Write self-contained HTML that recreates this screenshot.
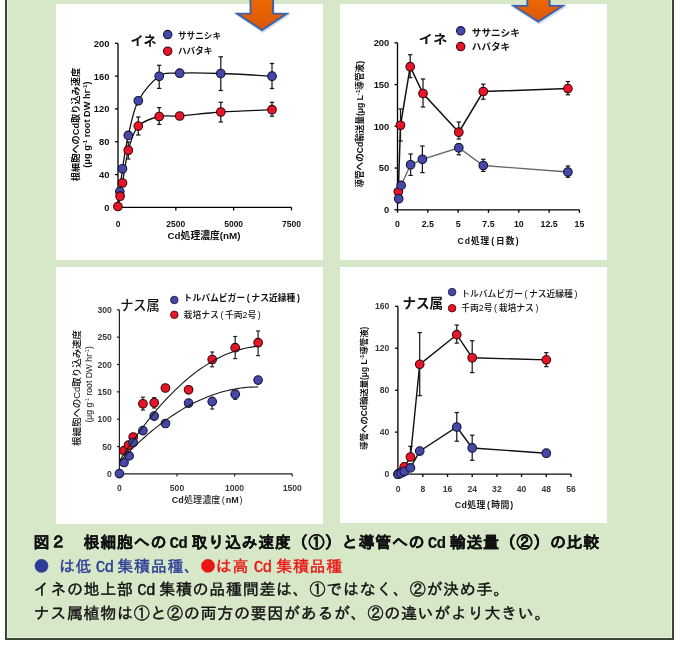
<!DOCTYPE html>
<html><head><meta charset="utf-8"><style>
html,body{margin:0;padding:0;background:#fff;}
body{width:680px;height:645px;position:relative;overflow:hidden;}
#frame{position:absolute;left:5px;top:-10px;width:665px;height:648px;border:2px solid #3b4736;border-top:none;background:#d7e8c8;}
#frame:before{content:"";position:absolute;left:0;top:0;right:0;bottom:0;border:1px solid #e9f4dd;border-top:none;}
.pn{position:absolute;background:#fff;}
svg{position:absolute;left:0;top:0;}
#cap{position:absolute;left:33.5px;top:532.9px;font-family:"Liberation Mono","IPAGothic","Noto Sans CJK JP",monospace;font-size:16px;line-height:23.8px;letter-spacing:0.7px;color:#111;-webkit-text-stroke:0.4px currentColor;white-space:nowrap;}
#cap>div{height:23.8px;} #cap .b{font-weight:bold;-webkit-text-stroke:0.15px currentColor;}
#cap .c,#cap .c1,#cap .c2,#cap .c3{letter-spacing:-0.9px;} #cap .c{margin:0 4.6px 0 3.5px;} #cap .c1{margin:0 4.6px 0 2.4px;} #cap .c2{margin:0 4.2px 0 3.4px;} #cap .c3{margin:0 5.0px 0 4.7px;}
#cap .j{font-family:"IPAGothic","Noto Sans CJK JP",monospace;line-height:0;} .bl{color:#2b3c96;} .rd{color:#ec1515;}
</style></head><body>
<div id="frame"></div>
<div class="pn" style="left:56px;top:4px;width:267px;height:256px"></div>
<div class="pn" style="left:340px;top:4px;width:267px;height:256px"></div>
<div class="pn" style="left:56px;top:267px;width:267px;height:257px"></div>
<div class="pn" style="left:340px;top:267px;width:267px;height:256px"></div>
<svg width="680" height="645" viewBox="0 0 680 645">
<defs><linearGradient id="og" x1="0" y1="0" x2="0" y2="1"><stop offset="0" stop-color="#f06a02"/><stop offset="0.6" stop-color="#e25e06"/><stop offset="1" stop-color="#da560a"/></linearGradient></defs>
<path d="M118.00,43.30 L118.00,207.40 L291.49,207.40" fill="none" stroke="#000" stroke-width="1.30"/><line x1="115.00" y1="207.40" x2="118.00" y2="207.40" stroke="#000" stroke-width="1.30"/><line x1="115.00" y1="174.58" x2="118.00" y2="174.58" stroke="#000" stroke-width="1.30"/><line x1="115.00" y1="141.76" x2="118.00" y2="141.76" stroke="#000" stroke-width="1.30"/><line x1="115.00" y1="108.94" x2="118.00" y2="108.94" stroke="#000" stroke-width="1.30"/><line x1="115.00" y1="76.12" x2="118.00" y2="76.12" stroke="#000" stroke-width="1.30"/><line x1="115.00" y1="43.30" x2="118.00" y2="43.30" stroke="#000" stroke-width="1.30"/><line x1="118.00" y1="207.40" x2="118.00" y2="210.40" stroke="#000" stroke-width="1.30"/><line x1="175.83" y1="207.40" x2="175.83" y2="210.40" stroke="#000" stroke-width="1.30"/><line x1="233.66" y1="207.40" x2="233.66" y2="210.40" stroke="#000" stroke-width="1.30"/><line x1="291.49" y1="207.40" x2="291.49" y2="210.40" stroke="#000" stroke-width="1.30"/>
<text x="109.40" y="210.80" font-size="9.40" text-anchor="end" font-weight="bold" fill="#111" font-family='"Liberation Sans", "Noto Sans CJK JP", sans-serif' >0</text>
<text x="109.40" y="177.98" font-size="9.40" text-anchor="end" font-weight="bold" fill="#111" font-family='"Liberation Sans", "Noto Sans CJK JP", sans-serif' >40</text>
<text x="109.40" y="145.16" font-size="9.40" text-anchor="end" font-weight="bold" fill="#111" font-family='"Liberation Sans", "Noto Sans CJK JP", sans-serif' >80</text>
<text x="109.40" y="112.34" font-size="9.40" text-anchor="end" font-weight="bold" fill="#111" font-family='"Liberation Sans", "Noto Sans CJK JP", sans-serif' >120</text>
<text x="109.40" y="79.52" font-size="9.40" text-anchor="end" font-weight="bold" fill="#111" font-family='"Liberation Sans", "Noto Sans CJK JP", sans-serif' >160</text>
<text x="109.40" y="46.70" font-size="9.40" text-anchor="end" font-weight="bold" fill="#111" font-family='"Liberation Sans", "Noto Sans CJK JP", sans-serif' >200</text>
<text x="118.00" y="226.70" font-size="8.50" text-anchor="middle" font-weight="bold" fill="#111" font-family='"Liberation Sans", "Noto Sans CJK JP", sans-serif' >0</text>
<text x="175.83" y="226.70" font-size="8.50" text-anchor="middle" font-weight="bold" fill="#111" font-family='"Liberation Sans", "Noto Sans CJK JP", sans-serif' >2500</text>
<text x="233.66" y="226.70" font-size="8.50" text-anchor="middle" font-weight="bold" fill="#111" font-family='"Liberation Sans", "Noto Sans CJK JP", sans-serif' >5000</text>
<text x="291.49" y="226.70" font-size="8.50" text-anchor="middle" font-weight="bold" fill="#111" font-family='"Liberation Sans", "Noto Sans CJK JP", sans-serif' >7500</text>
<text x="204.00" y="239.20" font-size="9.80" text-anchor="middle" font-weight="bold" fill="#111" font-family='"Liberation Sans", "Noto Sans CJK JP", sans-serif' >Cd処理濃度(nM)</text>
<g transform="translate(78.6,124.5) rotate(-90)"><text x="0.00" y="0.00" font-size="9.20" text-anchor="middle" font-weight="bold" fill="#111" font-family='"Liberation Sans", "Noto Sans CJK JP", sans-serif' >根細胞へのCd取り込み速度</text></g>
<g transform="translate(90.0,124.6) rotate(-90)"><text x="0.00" y="0.00" font-size="9.20" text-anchor="middle" font-weight="bold" fill="#111" font-family='"Liberation Sans", "Noto Sans CJK JP", sans-serif' >(μg g<tspan font-size="6" dy="-3">-1</tspan><tspan dy="3"> root DW hr</tspan><tspan font-size="6" dy="-3">-1</tspan><tspan dy="3">)</tspan></text></g>
<text x="130.60" y="45.00" font-size="13.00" text-anchor="start" font-weight="bold" fill="#111" font-family='"Liberation Sans", "Noto Sans CJK JP", sans-serif' >イネ</text>
<circle cx="167.70" cy="34.60" r="4.20" fill="#4548a6" stroke="#12143a" stroke-width="1.10"/>
<circle cx="167.70" cy="51.20" r="4.20" fill="#e8142a" stroke="#3a0606" stroke-width="1.10"/>
<text x="178.00" y="39.20" font-size="8.60" text-anchor="start" font-weight="bold" fill="#111" font-family='"Liberation Sans", "Noto Sans CJK JP", sans-serif' >ササニシキ</text>
<text x="178.00" y="54.20" font-size="8.60" text-anchor="start" font-weight="bold" fill="#111" font-family='"Liberation Sans", "Noto Sans CJK JP", sans-serif' >ハバタキ</text>
<path d="M118.00,207.00 C118.30,204.43 119.05,197.97 119.80,191.60 C120.55,185.23 121.08,178.17 122.50,168.80 C123.92,159.43 125.67,146.73 128.30,135.40 C130.93,124.07 133.15,110.65 138.30,100.80 C143.45,90.95 152.30,80.90 159.20,76.30 C166.10,71.70 169.43,73.67 179.70,73.20 C189.97,72.73 205.42,73.00 220.80,73.50 C236.18,74.00 263.47,75.75 272.00,76.20" fill="none" stroke="#111" stroke-width="1.3"/>
<path d="M117.90,206.50 C118.27,204.78 119.33,200.12 120.10,196.20 C120.87,192.28 121.13,190.65 122.50,183.00 C123.87,175.35 125.67,159.78 128.30,150.30 C130.93,140.82 133.15,131.73 138.30,126.10 C143.45,120.47 152.30,118.18 159.20,116.50 C166.10,114.82 169.43,116.75 179.70,116.00 C189.97,115.25 205.42,113.05 220.80,112.00 C236.18,110.95 263.47,110.08 272.00,109.70" fill="none" stroke="#111" stroke-width="1.3"/>
<line x1="159.20" y1="65.30" x2="159.20" y2="88.40" stroke="#1a1a1a" stroke-width="1.25"/><line x1="157.00" y1="65.30" x2="161.40" y2="65.30" stroke="#1a1a1a" stroke-width="1.25"/><line x1="157.00" y1="88.40" x2="161.40" y2="88.40" stroke="#1a1a1a" stroke-width="1.25"/>
<line x1="220.80" y1="56.80" x2="220.80" y2="90.50" stroke="#1a1a1a" stroke-width="1.25"/><line x1="218.60" y1="56.80" x2="223.00" y2="56.80" stroke="#1a1a1a" stroke-width="1.25"/><line x1="218.60" y1="90.50" x2="223.00" y2="90.50" stroke="#1a1a1a" stroke-width="1.25"/>
<line x1="272.00" y1="63.50" x2="272.00" y2="88.50" stroke="#1a1a1a" stroke-width="1.25"/><line x1="269.80" y1="63.50" x2="274.20" y2="63.50" stroke="#1a1a1a" stroke-width="1.25"/><line x1="269.80" y1="88.50" x2="274.20" y2="88.50" stroke="#1a1a1a" stroke-width="1.25"/>
<line x1="138.30" y1="117.00" x2="138.30" y2="135.00" stroke="#1a1a1a" stroke-width="1.25"/><line x1="136.10" y1="117.00" x2="140.50" y2="117.00" stroke="#1a1a1a" stroke-width="1.25"/><line x1="136.10" y1="135.00" x2="140.50" y2="135.00" stroke="#1a1a1a" stroke-width="1.25"/>
<line x1="159.20" y1="107.60" x2="159.20" y2="124.40" stroke="#1a1a1a" stroke-width="1.25"/><line x1="157.00" y1="107.60" x2="161.40" y2="107.60" stroke="#1a1a1a" stroke-width="1.25"/><line x1="157.00" y1="124.40" x2="161.40" y2="124.40" stroke="#1a1a1a" stroke-width="1.25"/>
<line x1="220.80" y1="102.30" x2="220.80" y2="122.00" stroke="#1a1a1a" stroke-width="1.25"/><line x1="218.60" y1="102.30" x2="223.00" y2="102.30" stroke="#1a1a1a" stroke-width="1.25"/><line x1="218.60" y1="122.00" x2="223.00" y2="122.00" stroke="#1a1a1a" stroke-width="1.25"/>
<line x1="272.00" y1="102.30" x2="272.00" y2="116.20" stroke="#1a1a1a" stroke-width="1.25"/><line x1="269.80" y1="102.30" x2="274.20" y2="102.30" stroke="#1a1a1a" stroke-width="1.25"/><line x1="269.80" y1="116.20" x2="274.20" y2="116.20" stroke="#1a1a1a" stroke-width="1.25"/>
<line x1="128.30" y1="142.00" x2="128.30" y2="159.00" stroke="#1a1a1a" stroke-width="1.25"/><line x1="126.10" y1="142.00" x2="130.50" y2="142.00" stroke="#1a1a1a" stroke-width="1.25"/><line x1="126.10" y1="159.00" x2="130.50" y2="159.00" stroke="#1a1a1a" stroke-width="1.25"/>
<circle cx="119.80" cy="191.60" r="4.30" fill="#4548a6" stroke="#12143a" stroke-width="1.10"/>
<circle cx="122.50" cy="168.80" r="4.30" fill="#4548a6" stroke="#12143a" stroke-width="1.10"/>
<circle cx="128.30" cy="135.40" r="4.30" fill="#4548a6" stroke="#12143a" stroke-width="1.10"/>
<circle cx="138.30" cy="100.80" r="4.30" fill="#4548a6" stroke="#12143a" stroke-width="1.10"/>
<circle cx="159.20" cy="76.30" r="4.30" fill="#4548a6" stroke="#12143a" stroke-width="1.10"/>
<circle cx="179.70" cy="73.20" r="4.30" fill="#4548a6" stroke="#12143a" stroke-width="1.10"/>
<circle cx="220.80" cy="73.50" r="4.30" fill="#4548a6" stroke="#12143a" stroke-width="1.10"/>
<circle cx="272.00" cy="76.20" r="4.30" fill="#4548a6" stroke="#12143a" stroke-width="1.10"/>
<circle cx="117.90" cy="206.50" r="4.30" fill="#e8142a" stroke="#3a0606" stroke-width="1.10"/>
<circle cx="120.10" cy="196.20" r="4.30" fill="#e8142a" stroke="#3a0606" stroke-width="1.10"/>
<circle cx="122.50" cy="183.00" r="4.30" fill="#e8142a" stroke="#3a0606" stroke-width="1.10"/>
<circle cx="128.30" cy="150.30" r="4.30" fill="#e8142a" stroke="#3a0606" stroke-width="1.10"/>
<circle cx="138.30" cy="126.10" r="4.30" fill="#e8142a" stroke="#3a0606" stroke-width="1.10"/>
<circle cx="159.20" cy="116.50" r="4.30" fill="#e8142a" stroke="#3a0606" stroke-width="1.10"/>
<circle cx="179.70" cy="116.00" r="4.30" fill="#e8142a" stroke="#3a0606" stroke-width="1.10"/>
<circle cx="220.80" cy="112.00" r="4.30" fill="#e8142a" stroke="#3a0606" stroke-width="1.10"/>
<circle cx="272.00" cy="109.70" r="4.30" fill="#e8142a" stroke="#3a0606" stroke-width="1.10"/>
<path d="M397.50,42.80 L397.50,209.80 L579.48,209.80" fill="none" stroke="#000" stroke-width="1.30"/><line x1="394.50" y1="209.80" x2="397.50" y2="209.80" stroke="#000" stroke-width="1.30"/><line x1="394.50" y1="168.05" x2="397.50" y2="168.05" stroke="#000" stroke-width="1.30"/><line x1="394.50" y1="126.30" x2="397.50" y2="126.30" stroke="#000" stroke-width="1.30"/><line x1="394.50" y1="84.55" x2="397.50" y2="84.55" stroke="#000" stroke-width="1.30"/><line x1="394.50" y1="42.80" x2="397.50" y2="42.80" stroke="#000" stroke-width="1.30"/><line x1="397.50" y1="209.80" x2="397.50" y2="212.80" stroke="#000" stroke-width="1.30"/><line x1="427.83" y1="209.80" x2="427.83" y2="212.80" stroke="#000" stroke-width="1.30"/><line x1="458.16" y1="209.80" x2="458.16" y2="212.80" stroke="#000" stroke-width="1.30"/><line x1="488.49" y1="209.80" x2="488.49" y2="212.80" stroke="#000" stroke-width="1.30"/><line x1="518.82" y1="209.80" x2="518.82" y2="212.80" stroke="#000" stroke-width="1.30"/><line x1="549.15" y1="209.80" x2="549.15" y2="212.80" stroke="#000" stroke-width="1.30"/><line x1="579.48" y1="209.80" x2="579.48" y2="212.80" stroke="#000" stroke-width="1.30"/>
<text x="389.30" y="213.20" font-size="9.40" text-anchor="end" font-weight="bold" fill="#111" font-family='"Liberation Sans", "Noto Sans CJK JP", sans-serif' >0</text>
<text x="389.30" y="171.45" font-size="9.40" text-anchor="end" font-weight="bold" fill="#111" font-family='"Liberation Sans", "Noto Sans CJK JP", sans-serif' >50</text>
<text x="389.30" y="129.70" font-size="9.40" text-anchor="end" font-weight="bold" fill="#111" font-family='"Liberation Sans", "Noto Sans CJK JP", sans-serif' >100</text>
<text x="389.30" y="87.95" font-size="9.40" text-anchor="end" font-weight="bold" fill="#111" font-family='"Liberation Sans", "Noto Sans CJK JP", sans-serif' >150</text>
<text x="389.30" y="46.20" font-size="9.40" text-anchor="end" font-weight="bold" fill="#111" font-family='"Liberation Sans", "Noto Sans CJK JP", sans-serif' >200</text>
<text x="397.50" y="226.90" font-size="8.80" text-anchor="middle" font-weight="bold" fill="#111" font-family='"Liberation Sans", "Noto Sans CJK JP", sans-serif' >0</text>
<text x="427.83" y="226.90" font-size="8.80" text-anchor="middle" font-weight="bold" fill="#111" font-family='"Liberation Sans", "Noto Sans CJK JP", sans-serif' >2.5</text>
<text x="458.16" y="226.90" font-size="8.80" text-anchor="middle" font-weight="bold" fill="#111" font-family='"Liberation Sans", "Noto Sans CJK JP", sans-serif' >5</text>
<text x="488.49" y="226.90" font-size="8.80" text-anchor="middle" font-weight="bold" fill="#111" font-family='"Liberation Sans", "Noto Sans CJK JP", sans-serif' >7.5</text>
<text x="518.82" y="226.90" font-size="8.80" text-anchor="middle" font-weight="bold" fill="#111" font-family='"Liberation Sans", "Noto Sans CJK JP", sans-serif' >10</text>
<text x="549.15" y="226.90" font-size="8.80" text-anchor="middle" font-weight="bold" fill="#111" font-family='"Liberation Sans", "Noto Sans CJK JP", sans-serif' >12.5</text>
<text x="579.48" y="226.90" font-size="8.80" text-anchor="middle" font-weight="bold" fill="#111" font-family='"Liberation Sans", "Noto Sans CJK JP", sans-serif' >15</text>
<text x="488.60" y="243.60" font-size="8.60" text-anchor="middle" font-weight="bold" fill="#111" font-family='"Liberation Sans", "Noto Sans CJK JP", sans-serif'  letter-spacing="1.00">Cd処理<tspan dx="1">(</tspan><tspan dx="1">日数</tspan><tspan dx="0.5">)</tspan></text>
<g transform="translate(363.0,124.3) rotate(-90)"><text x="0.00" y="0.00" font-size="8.60" text-anchor="middle" font-weight="bold" fill="#111" font-family='"Liberation Sans", "Noto Sans CJK JP", sans-serif' >導管へのCd輸送量(μg L<tspan font-size="6" dy="-3">-1</tspan><tspan dy="3">導管液)</tspan></text></g>
<g transform="translate(418.6,43.6) scale(1.06,0.9)"><text x="0.00" y="0.00" font-size="13.50" text-anchor="start" font-weight="bold" fill="#111" font-family='"Liberation Sans", "Noto Sans CJK JP", sans-serif' >イネ</text></g>
<circle cx="460.70" cy="30.80" r="4.20" fill="#4548a6" stroke="#12143a" stroke-width="1.10"/>
<circle cx="460.70" cy="46.60" r="4.20" fill="#e8142a" stroke="#3a0606" stroke-width="1.10"/>
<text x="471.80" y="36.00" font-size="9.60" text-anchor="start" font-weight="bold" fill="#111" font-family='"Liberation Sans", "Noto Sans CJK JP", sans-serif' >ササニシキ</text>
<text x="471.80" y="49.70" font-size="9.60" text-anchor="start" font-weight="bold" fill="#111" font-family='"Liberation Sans", "Noto Sans CJK JP", sans-serif' >ハバタキ</text>
<path d="M398.70,198.80 L401.10,185.40 L410.60,164.80 L422.40,159.30 L458.80,147.80 L483.30,165.50 L567.90,172.00" fill="none" stroke="#666" stroke-width="1.3"/>
<path d="M398.30,191.80 L400.50,125.30 L410.20,66.70 L423.00,93.50 L458.80,132.20 L483.30,91.50 L567.90,88.60" fill="none" stroke="#111" stroke-width="1.5"/>
<line x1="400.50" y1="109.00" x2="400.50" y2="141.00" stroke="#1a1a1a" stroke-width="1.25"/><line x1="398.30" y1="109.00" x2="402.70" y2="109.00" stroke="#1a1a1a" stroke-width="1.25"/><line x1="398.30" y1="141.00" x2="402.70" y2="141.00" stroke="#1a1a1a" stroke-width="1.25"/>
<line x1="410.20" y1="54.70" x2="410.20" y2="77.60" stroke="#1a1a1a" stroke-width="1.25"/><line x1="408.00" y1="54.70" x2="412.40" y2="54.70" stroke="#1a1a1a" stroke-width="1.25"/><line x1="408.00" y1="77.60" x2="412.40" y2="77.60" stroke="#1a1a1a" stroke-width="1.25"/>
<line x1="423.00" y1="79.00" x2="423.00" y2="107.00" stroke="#1a1a1a" stroke-width="1.25"/><line x1="420.80" y1="79.00" x2="425.20" y2="79.00" stroke="#1a1a1a" stroke-width="1.25"/><line x1="420.80" y1="107.00" x2="425.20" y2="107.00" stroke="#1a1a1a" stroke-width="1.25"/>
<line x1="458.80" y1="122.00" x2="458.80" y2="139.00" stroke="#1a1a1a" stroke-width="1.25"/><line x1="456.60" y1="122.00" x2="461.00" y2="122.00" stroke="#1a1a1a" stroke-width="1.25"/><line x1="456.60" y1="139.00" x2="461.00" y2="139.00" stroke="#1a1a1a" stroke-width="1.25"/>
<line x1="483.30" y1="84.20" x2="483.30" y2="99.20" stroke="#1a1a1a" stroke-width="1.25"/><line x1="481.10" y1="84.20" x2="485.50" y2="84.20" stroke="#1a1a1a" stroke-width="1.25"/><line x1="481.10" y1="99.20" x2="485.50" y2="99.20" stroke="#1a1a1a" stroke-width="1.25"/>
<line x1="567.90" y1="81.50" x2="567.90" y2="94.80" stroke="#1a1a1a" stroke-width="1.25"/><line x1="565.70" y1="81.50" x2="570.10" y2="81.50" stroke="#1a1a1a" stroke-width="1.25"/><line x1="565.70" y1="94.80" x2="570.10" y2="94.80" stroke="#1a1a1a" stroke-width="1.25"/>
<line x1="410.60" y1="154.00" x2="410.60" y2="175.40" stroke="#1a1a1a" stroke-width="1.25"/><line x1="408.40" y1="154.00" x2="412.80" y2="154.00" stroke="#1a1a1a" stroke-width="1.25"/><line x1="408.40" y1="175.40" x2="412.80" y2="175.40" stroke="#1a1a1a" stroke-width="1.25"/>
<line x1="422.40" y1="146.00" x2="422.40" y2="172.60" stroke="#1a1a1a" stroke-width="1.25"/><line x1="420.20" y1="146.00" x2="424.60" y2="146.00" stroke="#1a1a1a" stroke-width="1.25"/><line x1="420.20" y1="172.60" x2="424.60" y2="172.60" stroke="#1a1a1a" stroke-width="1.25"/>
<line x1="458.80" y1="143.70" x2="458.80" y2="154.80" stroke="#1a1a1a" stroke-width="1.25"/><line x1="456.60" y1="143.70" x2="461.00" y2="143.70" stroke="#1a1a1a" stroke-width="1.25"/><line x1="456.60" y1="154.80" x2="461.00" y2="154.80" stroke="#1a1a1a" stroke-width="1.25"/>
<line x1="483.30" y1="159.30" x2="483.30" y2="171.40" stroke="#1a1a1a" stroke-width="1.25"/><line x1="481.10" y1="159.30" x2="485.50" y2="159.30" stroke="#1a1a1a" stroke-width="1.25"/><line x1="481.10" y1="171.40" x2="485.50" y2="171.40" stroke="#1a1a1a" stroke-width="1.25"/>
<line x1="567.90" y1="166.00" x2="567.90" y2="177.30" stroke="#1a1a1a" stroke-width="1.25"/><line x1="565.70" y1="166.00" x2="570.10" y2="166.00" stroke="#1a1a1a" stroke-width="1.25"/><line x1="565.70" y1="177.30" x2="570.10" y2="177.30" stroke="#1a1a1a" stroke-width="1.25"/>
<circle cx="398.30" cy="191.80" r="4.30" fill="#e8142a" stroke="#3a0606" stroke-width="1.10"/>
<circle cx="400.50" cy="125.30" r="4.30" fill="#e8142a" stroke="#3a0606" stroke-width="1.10"/>
<circle cx="410.20" cy="66.70" r="4.30" fill="#e8142a" stroke="#3a0606" stroke-width="1.10"/>
<circle cx="423.00" cy="93.50" r="4.30" fill="#e8142a" stroke="#3a0606" stroke-width="1.10"/>
<circle cx="458.80" cy="132.20" r="4.30" fill="#e8142a" stroke="#3a0606" stroke-width="1.10"/>
<circle cx="483.30" cy="91.50" r="4.30" fill="#e8142a" stroke="#3a0606" stroke-width="1.10"/>
<circle cx="567.90" cy="88.60" r="4.30" fill="#e8142a" stroke="#3a0606" stroke-width="1.10"/>
<circle cx="398.70" cy="198.80" r="4.30" fill="#4548a6" stroke="#12143a" stroke-width="1.10"/>
<circle cx="401.10" cy="185.40" r="4.30" fill="#4548a6" stroke="#12143a" stroke-width="1.10"/>
<circle cx="410.60" cy="164.80" r="4.30" fill="#4548a6" stroke="#12143a" stroke-width="1.10"/>
<circle cx="422.40" cy="159.30" r="4.30" fill="#4548a6" stroke="#12143a" stroke-width="1.10"/>
<circle cx="458.80" cy="147.80" r="4.30" fill="#4548a6" stroke="#12143a" stroke-width="1.10"/>
<circle cx="483.30" cy="165.50" r="4.30" fill="#4548a6" stroke="#12143a" stroke-width="1.10"/>
<circle cx="567.90" cy="172.00" r="4.30" fill="#4548a6" stroke="#12143a" stroke-width="1.10"/>
<path d="M119.40,309.80 L119.40,473.90 L292.20,473.90" fill="none" stroke="#222" stroke-width="1.20"/><line x1="116.90" y1="473.90" x2="119.40" y2="473.90" stroke="#222" stroke-width="1.20"/><line x1="116.90" y1="446.55" x2="119.40" y2="446.55" stroke="#222" stroke-width="1.20"/><line x1="116.90" y1="419.20" x2="119.40" y2="419.20" stroke="#222" stroke-width="1.20"/><line x1="116.90" y1="391.85" x2="119.40" y2="391.85" stroke="#222" stroke-width="1.20"/><line x1="116.90" y1="364.50" x2="119.40" y2="364.50" stroke="#222" stroke-width="1.20"/><line x1="116.90" y1="337.15" x2="119.40" y2="337.15" stroke="#222" stroke-width="1.20"/><line x1="116.90" y1="309.80" x2="119.40" y2="309.80" stroke="#222" stroke-width="1.20"/><line x1="119.40" y1="473.90" x2="119.40" y2="476.40" stroke="#222" stroke-width="1.20"/><line x1="177.00" y1="473.90" x2="177.00" y2="476.40" stroke="#222" stroke-width="1.20"/><line x1="234.60" y1="473.90" x2="234.60" y2="476.40" stroke="#222" stroke-width="1.20"/><line x1="292.20" y1="473.90" x2="292.20" y2="476.40" stroke="#222" stroke-width="1.20"/>
<text x="111.80" y="477.10" font-size="8.60" text-anchor="end" font-weight="bold" fill="#3a3a3a" font-family='"Liberation Sans", "Noto Sans CJK JP", sans-serif' >0</text>
<text x="111.80" y="449.75" font-size="8.60" text-anchor="end" font-weight="bold" fill="#3a3a3a" font-family='"Liberation Sans", "Noto Sans CJK JP", sans-serif' >50</text>
<text x="111.80" y="422.40" font-size="8.60" text-anchor="end" font-weight="bold" fill="#3a3a3a" font-family='"Liberation Sans", "Noto Sans CJK JP", sans-serif' >100</text>
<text x="111.80" y="395.05" font-size="8.60" text-anchor="end" font-weight="bold" fill="#3a3a3a" font-family='"Liberation Sans", "Noto Sans CJK JP", sans-serif' >150</text>
<text x="111.80" y="367.70" font-size="8.60" text-anchor="end" font-weight="bold" fill="#3a3a3a" font-family='"Liberation Sans", "Noto Sans CJK JP", sans-serif' >200</text>
<text x="111.80" y="340.35" font-size="8.60" text-anchor="end" font-weight="bold" fill="#3a3a3a" font-family='"Liberation Sans", "Noto Sans CJK JP", sans-serif' >250</text>
<text x="111.80" y="313.00" font-size="8.60" text-anchor="end" font-weight="bold" fill="#3a3a3a" font-family='"Liberation Sans", "Noto Sans CJK JP", sans-serif' >300</text>
<text x="119.40" y="490.50" font-size="8.60" text-anchor="middle" font-weight="bold" fill="#3a3a3a" font-family='"Liberation Sans", "Noto Sans CJK JP", sans-serif' >0</text>
<text x="177.00" y="490.50" font-size="8.60" text-anchor="middle" font-weight="bold" fill="#3a3a3a" font-family='"Liberation Sans", "Noto Sans CJK JP", sans-serif' >500</text>
<text x="234.60" y="490.50" font-size="8.60" text-anchor="middle" font-weight="bold" fill="#3a3a3a" font-family='"Liberation Sans", "Noto Sans CJK JP", sans-serif' >1000</text>
<text x="292.20" y="490.50" font-size="8.60" text-anchor="middle" font-weight="bold" fill="#3a3a3a" font-family='"Liberation Sans", "Noto Sans CJK JP", sans-serif' >1500</text>
<text x="207.20" y="502.60" font-size="9.00" text-anchor="middle" font-weight="500" fill="#222" font-family='"Liberation Sans", "Noto Sans CJK JP", sans-serif'  letter-spacing="0.10"><tspan font-weight="bold">Cd</tspan>処理濃度<tspan dx="1.5">(</tspan><tspan dx="0.8" font-weight="bold">nM</tspan><tspan dx="0.6">)</tspan></text>
<g transform="translate(80.4,388) rotate(-90)"><text x="0.00" y="0.00" font-size="9.45" text-anchor="middle" font-weight="500" fill="#111" font-family='"Liberation Sans", "Noto Sans CJK JP", sans-serif' >根細胞へのCd取り込み速度</text></g>
<g transform="translate(91.5,384.4) rotate(-90)"><text x="0.00" y="0.00" font-size="8.60" text-anchor="middle" font-weight="500" fill="#111" font-family='"Liberation Sans", "Noto Sans CJK JP", sans-serif' >(μg g<tspan font-size="5.5" dy="-3">-1</tspan><tspan dy="3"> root DW  hr</tspan><tspan font-size="5.5" dy="-3">-1</tspan><tspan dy="3">)</tspan></text></g>
<text x="120.20" y="310.00" font-size="13.20" text-anchor="start" font-weight="500" fill="#111" font-family='"Liberation Sans", "Noto Sans CJK JP", sans-serif' >ナス属</text>
<circle cx="174.30" cy="300.00" r="3.80" fill="#4548a6" stroke="#12143a" stroke-width="0.80"/>
<circle cx="174.30" cy="314.80" r="3.80" fill="#e8142a" stroke="#3a0606" stroke-width="0.80"/>
<text x="183.60" y="301.00" font-size="8.80" text-anchor="start" font-weight="bold" fill="#111" font-family='"Liberation Sans", "Noto Sans CJK JP", sans-serif' >トルバムビガー<tspan dx="1.6">(</tspan><tspan dx="1.6">ナス近縁種</tspan><tspan dx="1.6">)</tspan></text>
<text x="183.60" y="318.00" font-size="8.80" text-anchor="start" font-weight="500" fill="#111" font-family='"Liberation Sans", "Noto Sans CJK JP", sans-serif' >栽培ナス<tspan dx="1.6">(</tspan><tspan dx="1.6">千両2号</tspan><tspan dx="1.6">)</tspan></text>
<line x1="142.90" y1="397.20" x2="142.90" y2="410.00" stroke="#222" stroke-width="1.20"/><line x1="140.90" y1="397.20" x2="144.90" y2="397.20" stroke="#222" stroke-width="1.20"/><line x1="140.90" y1="410.00" x2="144.90" y2="410.00" stroke="#222" stroke-width="1.20"/>
<line x1="154.20" y1="397.60" x2="154.20" y2="408.00" stroke="#222" stroke-width="1.20"/><line x1="152.20" y1="397.60" x2="156.20" y2="397.60" stroke="#222" stroke-width="1.20"/><line x1="152.20" y1="408.00" x2="156.20" y2="408.00" stroke="#222" stroke-width="1.20"/>
<line x1="212.20" y1="352.00" x2="212.20" y2="366.80" stroke="#222" stroke-width="1.20"/><line x1="210.20" y1="352.00" x2="214.20" y2="352.00" stroke="#222" stroke-width="1.20"/><line x1="210.20" y1="366.80" x2="214.20" y2="366.80" stroke="#222" stroke-width="1.20"/>
<line x1="235.20" y1="336.50" x2="235.20" y2="358.60" stroke="#222" stroke-width="1.20"/><line x1="233.20" y1="336.50" x2="237.20" y2="336.50" stroke="#222" stroke-width="1.20"/><line x1="233.20" y1="358.60" x2="237.20" y2="358.60" stroke="#222" stroke-width="1.20"/>
<line x1="258.10" y1="331.00" x2="258.10" y2="355.60" stroke="#222" stroke-width="1.20"/><line x1="256.10" y1="331.00" x2="260.10" y2="331.00" stroke="#222" stroke-width="1.20"/><line x1="256.10" y1="355.60" x2="260.10" y2="355.60" stroke="#222" stroke-width="1.20"/>
<line x1="212.20" y1="397.20" x2="212.20" y2="409.00" stroke="#222" stroke-width="1.20"/><line x1="210.20" y1="397.20" x2="214.20" y2="397.20" stroke="#222" stroke-width="1.20"/><line x1="210.20" y1="409.00" x2="214.20" y2="409.00" stroke="#222" stroke-width="1.20"/>
<line x1="235.20" y1="391.00" x2="235.20" y2="399.30" stroke="#222" stroke-width="1.20"/><line x1="233.20" y1="391.00" x2="237.20" y2="391.00" stroke="#222" stroke-width="1.20"/><line x1="233.20" y1="399.30" x2="237.20" y2="399.30" stroke="#222" stroke-width="1.20"/>
<circle cx="124.00" cy="450.70" r="4.30" fill="#e8142a" stroke="#3a0606" stroke-width="1.10"/>
<circle cx="128.50" cy="445.20" r="4.30" fill="#e8142a" stroke="#3a0606" stroke-width="1.10"/>
<circle cx="133.20" cy="437.00" r="4.30" fill="#e8142a" stroke="#3a0606" stroke-width="1.10"/>
<circle cx="142.90" cy="403.80" r="4.30" fill="#e8142a" stroke="#3a0606" stroke-width="1.10"/>
<circle cx="154.20" cy="402.80" r="4.30" fill="#e8142a" stroke="#3a0606" stroke-width="1.10"/>
<circle cx="165.40" cy="388.00" r="4.30" fill="#e8142a" stroke="#3a0606" stroke-width="1.10"/>
<circle cx="188.60" cy="389.80" r="4.30" fill="#e8142a" stroke="#3a0606" stroke-width="1.10"/>
<circle cx="212.20" cy="359.50" r="4.30" fill="#e8142a" stroke="#3a0606" stroke-width="1.10"/>
<circle cx="235.20" cy="347.70" r="4.30" fill="#e8142a" stroke="#3a0606" stroke-width="1.10"/>
<circle cx="258.10" cy="342.70" r="4.30" fill="#e8142a" stroke="#3a0606" stroke-width="1.10"/>
<circle cx="119.40" cy="473.60" r="4.30" fill="#4548a6" stroke="#12143a" stroke-width="1.10"/>
<circle cx="124.00" cy="462.50" r="4.30" fill="#4548a6" stroke="#12143a" stroke-width="1.10"/>
<circle cx="129.10" cy="455.90" r="4.30" fill="#4548a6" stroke="#12143a" stroke-width="1.10"/>
<circle cx="133.20" cy="442.50" r="4.30" fill="#4548a6" stroke="#12143a" stroke-width="1.10"/>
<circle cx="142.90" cy="430.60" r="4.30" fill="#4548a6" stroke="#12143a" stroke-width="1.10"/>
<circle cx="154.20" cy="416.10" r="4.30" fill="#4548a6" stroke="#12143a" stroke-width="1.10"/>
<circle cx="165.50" cy="423.50" r="4.30" fill="#4548a6" stroke="#12143a" stroke-width="1.10"/>
<circle cx="188.60" cy="403.10" r="4.30" fill="#4548a6" stroke="#12143a" stroke-width="1.10"/>
<circle cx="212.20" cy="401.60" r="4.30" fill="#4548a6" stroke="#12143a" stroke-width="1.10"/>
<circle cx="235.20" cy="394.20" r="4.30" fill="#4548a6" stroke="#12143a" stroke-width="1.10"/>
<circle cx="258.10" cy="380.10" r="4.30" fill="#4548a6" stroke="#12143a" stroke-width="1.10"/>
<path d="M119.40,461.00 L122.87,455.62 L126.34,450.36 L129.80,445.24 L133.27,440.24 L136.74,435.37 L140.21,430.63 L143.67,426.02 L147.14,421.54 L150.61,417.19 L154.08,412.97 L157.54,408.88 L161.01,404.91 L164.48,401.08 L167.94,397.37 L171.41,393.79 L174.88,390.34 L178.35,387.03 L181.81,383.84 L185.28,380.77 L188.75,377.84 L192.22,375.04 L195.69,372.37 L199.15,369.82 L202.62,367.40 L206.09,365.12 L209.56,362.96 L213.02,360.93 L216.49,359.03 L219.96,357.26 L223.43,355.62 L226.89,354.11 L230.36,352.72 L233.83,351.47 L237.30,350.34 L240.76,349.35 L244.23,348.48 L247.70,347.74 L251.17,347.13 L254.63,346.65 L258.10,346.30" fill="none" stroke="#1a1a1a" stroke-width="1.1"/>
<path d="M119.40,462.00 L122.87,458.29 L126.34,454.68 L129.80,451.16 L133.27,447.73 L136.74,444.40 L140.21,441.16 L143.67,438.01 L147.14,434.96 L150.61,432.01 L154.08,429.14 L157.54,426.37 L161.01,423.70 L164.48,421.12 L167.94,418.63 L171.41,416.24 L174.88,413.94 L178.35,411.73 L181.81,409.62 L185.28,407.60 L188.75,405.68 L192.22,403.84 L195.69,402.11 L199.15,400.46 L202.62,398.92 L206.09,397.46 L209.56,396.10 L213.02,394.83 L216.49,393.66 L219.96,392.58 L223.43,391.59 L226.89,390.70 L230.36,389.90 L233.83,389.20 L237.30,388.59 L240.76,388.07 L244.23,387.65 L247.70,387.32 L251.17,387.09 L254.63,386.95 L258.10,386.90" fill="none" stroke="#1a1a1a" stroke-width="1.1"/>
<path d="M397.90,306.30 L397.90,474.10 L571.00,474.10" fill="none" stroke="#111" stroke-width="1.40"/><line x1="395.10" y1="474.10" x2="397.90" y2="474.10" stroke="#111" stroke-width="1.40"/><line x1="395.10" y1="432.15" x2="397.90" y2="432.15" stroke="#111" stroke-width="1.40"/><line x1="395.10" y1="390.20" x2="397.90" y2="390.20" stroke="#111" stroke-width="1.40"/><line x1="395.10" y1="348.25" x2="397.90" y2="348.25" stroke="#111" stroke-width="1.40"/><line x1="395.10" y1="306.30" x2="397.90" y2="306.30" stroke="#111" stroke-width="1.40"/><line x1="398.10" y1="474.10" x2="398.10" y2="476.90" stroke="#111" stroke-width="1.40"/><line x1="422.80" y1="474.10" x2="422.80" y2="476.90" stroke="#111" stroke-width="1.40"/><line x1="447.50" y1="474.10" x2="447.50" y2="476.90" stroke="#111" stroke-width="1.40"/><line x1="472.20" y1="474.10" x2="472.20" y2="476.90" stroke="#111" stroke-width="1.40"/><line x1="496.90" y1="474.10" x2="496.90" y2="476.90" stroke="#111" stroke-width="1.40"/><line x1="521.60" y1="474.10" x2="521.60" y2="476.90" stroke="#111" stroke-width="1.40"/><line x1="546.30" y1="474.10" x2="546.30" y2="476.90" stroke="#111" stroke-width="1.40"/><line x1="571.00" y1="474.10" x2="571.00" y2="476.90" stroke="#111" stroke-width="1.40"/>
<text x="389.30" y="477.10" font-size="8.60" text-anchor="end" font-weight="bold" fill="#3a3a3a" font-family='"Liberation Sans", "Noto Sans CJK JP", sans-serif' >0</text>
<text x="389.30" y="435.15" font-size="8.60" text-anchor="end" font-weight="bold" fill="#3a3a3a" font-family='"Liberation Sans", "Noto Sans CJK JP", sans-serif' >40</text>
<text x="389.30" y="393.20" font-size="8.60" text-anchor="end" font-weight="bold" fill="#3a3a3a" font-family='"Liberation Sans", "Noto Sans CJK JP", sans-serif' >80</text>
<text x="389.30" y="351.25" font-size="8.60" text-anchor="end" font-weight="bold" fill="#3a3a3a" font-family='"Liberation Sans", "Noto Sans CJK JP", sans-serif' >120</text>
<text x="389.30" y="309.30" font-size="8.60" text-anchor="end" font-weight="bold" fill="#3a3a3a" font-family='"Liberation Sans", "Noto Sans CJK JP", sans-serif' >160</text>
<text x="398.10" y="491.50" font-size="8.60" text-anchor="middle" font-weight="bold" fill="#3a3a3a" font-family='"Liberation Sans", "Noto Sans CJK JP", sans-serif' >0</text>
<text x="422.80" y="491.50" font-size="8.60" text-anchor="middle" font-weight="bold" fill="#3a3a3a" font-family='"Liberation Sans", "Noto Sans CJK JP", sans-serif' >8</text>
<text x="447.50" y="491.50" font-size="8.60" text-anchor="middle" font-weight="bold" fill="#3a3a3a" font-family='"Liberation Sans", "Noto Sans CJK JP", sans-serif' >16</text>
<text x="472.20" y="491.50" font-size="8.60" text-anchor="middle" font-weight="bold" fill="#3a3a3a" font-family='"Liberation Sans", "Noto Sans CJK JP", sans-serif' >24</text>
<text x="496.90" y="491.50" font-size="8.60" text-anchor="middle" font-weight="bold" fill="#3a3a3a" font-family='"Liberation Sans", "Noto Sans CJK JP", sans-serif' >32</text>
<text x="521.60" y="491.50" font-size="8.60" text-anchor="middle" font-weight="bold" fill="#3a3a3a" font-family='"Liberation Sans", "Noto Sans CJK JP", sans-serif' >40</text>
<text x="546.30" y="491.50" font-size="8.60" text-anchor="middle" font-weight="bold" fill="#3a3a3a" font-family='"Liberation Sans", "Noto Sans CJK JP", sans-serif' >48</text>
<text x="571.00" y="491.50" font-size="8.60" text-anchor="middle" font-weight="bold" fill="#3a3a3a" font-family='"Liberation Sans", "Noto Sans CJK JP", sans-serif' >56</text>
<text x="484.20" y="508.00" font-size="8.80" text-anchor="middle" font-weight="bold" fill="#1a1a1a" font-family='"Liberation Sans", "Noto Sans CJK JP", sans-serif'  letter-spacing="0.45">Cd処理<tspan dx="1.2">(</tspan><tspan dx="1">時間</tspan><tspan dx="0.5">)</tspan></text>
<g transform="translate(366.8,388.2) rotate(-90)"><text x="0.00" y="0.00" font-size="8.40" text-anchor="middle" font-weight="bold" fill="#111" font-family='"Liberation Sans", "Noto Sans CJK JP", sans-serif' >導管へのCd輸送量(μg L<tspan font-size="5.5" dy="-3">-1</tspan><tspan dy="3">導管液)</tspan></text></g>
<text x="402.40" y="308.40" font-size="13.60" text-anchor="start" font-weight="bold" fill="#111" font-family='"Liberation Sans", "Noto Sans CJK JP", sans-serif' >ナス属</text>
<circle cx="452.10" cy="292.10" r="3.80" fill="#4548a6" stroke="#12143a" stroke-width="0.80"/>
<circle cx="452.10" cy="308.20" r="3.80" fill="#e8142a" stroke="#3a0606" stroke-width="0.80"/>
<text x="461.20" y="297.30" font-size="8.80" text-anchor="start" font-weight="500" fill="#111" font-family='"Liberation Sans", "Noto Sans CJK JP", sans-serif' >トルバムビガー<tspan dx="1.6">(</tspan><tspan dx="1.6">ナス近縁種</tspan><tspan dx="1.6">)</tspan></text>
<text x="461.20" y="311.30" font-size="8.80" text-anchor="start" font-weight="500" fill="#111" font-family='"Liberation Sans", "Noto Sans CJK JP", sans-serif' >千両2号<tspan dx="1.6">(</tspan><tspan dx="1.6">栽培ナス</tspan><tspan dx="1.6">)</tspan></text>
<path d="M398.10,474.20 L401.19,473.15 L404.28,471.58 L410.45,467.91 L419.71,451.12 L456.76,427.00 L472.20,447.97 L546.30,453.22" fill="none" stroke="#111" stroke-width="1.4"/>
<path d="M398.10,474.20 L401.19,472.10 L404.28,466.86 L410.45,457.00 L419.71,364.37 L456.76,334.68 L472.20,357.76 L546.30,359.86" fill="none" stroke="#111" stroke-width="1.4"/>
<line x1="419.71" y1="332.60" x2="419.71" y2="395.70" stroke="#1a1a1a" stroke-width="1.25"/><line x1="417.51" y1="332.60" x2="421.91" y2="332.60" stroke="#1a1a1a" stroke-width="1.25"/><line x1="417.51" y1="395.70" x2="421.91" y2="395.70" stroke="#1a1a1a" stroke-width="1.25"/>
<line x1="456.76" y1="325.00" x2="456.76" y2="343.10" stroke="#1a1a1a" stroke-width="1.25"/><line x1="454.56" y1="325.00" x2="458.96" y2="325.00" stroke="#1a1a1a" stroke-width="1.25"/><line x1="454.56" y1="343.10" x2="458.96" y2="343.10" stroke="#1a1a1a" stroke-width="1.25"/>
<line x1="472.20" y1="340.70" x2="472.20" y2="372.60" stroke="#1a1a1a" stroke-width="1.25"/><line x1="470.00" y1="340.70" x2="474.40" y2="340.70" stroke="#1a1a1a" stroke-width="1.25"/><line x1="470.00" y1="372.60" x2="474.40" y2="372.60" stroke="#1a1a1a" stroke-width="1.25"/>
<line x1="546.30" y1="352.70" x2="546.30" y2="366.60" stroke="#1a1a1a" stroke-width="1.25"/><line x1="544.10" y1="352.70" x2="548.50" y2="352.70" stroke="#1a1a1a" stroke-width="1.25"/><line x1="544.10" y1="366.60" x2="548.50" y2="366.60" stroke="#1a1a1a" stroke-width="1.25"/>
<line x1="410.45" y1="446.40" x2="410.45" y2="460.00" stroke="#1a1a1a" stroke-width="1.25"/><line x1="408.25" y1="446.40" x2="412.65" y2="446.40" stroke="#1a1a1a" stroke-width="1.25"/><line x1="408.25" y1="460.00" x2="412.65" y2="460.00" stroke="#1a1a1a" stroke-width="1.25"/>
<line x1="456.76" y1="412.50" x2="456.76" y2="441.20" stroke="#1a1a1a" stroke-width="1.25"/><line x1="454.56" y1="412.50" x2="458.96" y2="412.50" stroke="#1a1a1a" stroke-width="1.25"/><line x1="454.56" y1="441.20" x2="458.96" y2="441.20" stroke="#1a1a1a" stroke-width="1.25"/>
<line x1="472.20" y1="435.20" x2="472.20" y2="460.30" stroke="#1a1a1a" stroke-width="1.25"/><line x1="470.00" y1="435.20" x2="474.40" y2="435.20" stroke="#1a1a1a" stroke-width="1.25"/><line x1="470.00" y1="460.30" x2="474.40" y2="460.30" stroke="#1a1a1a" stroke-width="1.25"/>
<circle cx="398.10" cy="474.20" r="4.30" fill="#e8142a" stroke="#3a0606" stroke-width="1.10"/>
<circle cx="401.19" cy="472.10" r="4.30" fill="#e8142a" stroke="#3a0606" stroke-width="1.10"/>
<circle cx="404.28" cy="466.86" r="4.30" fill="#e8142a" stroke="#3a0606" stroke-width="1.10"/>
<circle cx="410.45" cy="457.00" r="4.30" fill="#e8142a" stroke="#3a0606" stroke-width="1.10"/>
<circle cx="419.71" cy="364.37" r="4.30" fill="#e8142a" stroke="#3a0606" stroke-width="1.10"/>
<circle cx="456.76" cy="334.68" r="4.30" fill="#e8142a" stroke="#3a0606" stroke-width="1.10"/>
<circle cx="472.20" cy="357.76" r="4.30" fill="#e8142a" stroke="#3a0606" stroke-width="1.10"/>
<circle cx="546.30" cy="359.86" r="4.30" fill="#e8142a" stroke="#3a0606" stroke-width="1.10"/>
<circle cx="398.10" cy="474.20" r="4.30" fill="#4548a6" stroke="#12143a" stroke-width="1.10"/>
<circle cx="401.19" cy="473.15" r="4.30" fill="#4548a6" stroke="#12143a" stroke-width="1.10"/>
<circle cx="404.28" cy="471.58" r="4.30" fill="#4548a6" stroke="#12143a" stroke-width="1.10"/>
<circle cx="410.45" cy="467.91" r="4.30" fill="#4548a6" stroke="#12143a" stroke-width="1.10"/>
<circle cx="419.71" cy="451.12" r="4.30" fill="#4548a6" stroke="#12143a" stroke-width="1.10"/>
<circle cx="456.76" cy="427.00" r="4.30" fill="#4548a6" stroke="#12143a" stroke-width="1.10"/>
<circle cx="472.20" cy="447.97" r="4.30" fill="#4548a6" stroke="#12143a" stroke-width="1.10"/>
<circle cx="546.30" cy="453.22" r="4.30" fill="#4548a6" stroke="#12143a" stroke-width="1.10"/><path d="M250.5,-2 L250.5,13.6 L237.2,13.6 L262.0,30.0 L286.8,13.6 L273.0,13.6 L273.0,-2 Z" fill="none" stroke="#a9bcd8" stroke-width="2.2" opacity="0.55" transform="translate(0.6,1.6)"/><path d="M250.5,-2 L250.5,13.6 L237.2,13.6 L262.0,30.0 L286.8,13.6 L273.0,13.6 L273.0,-2 Z" fill="url(#og)" stroke="#3f62a6" stroke-width="1.9" stroke-linejoin="miter"/><path d="M527.3,-2 L527.3,5.8 L513.6,5.8 L538.3,21.6 L563.0,5.8 L549.5,5.8 L549.5,-2 Z" fill="none" stroke="#a9bcd8" stroke-width="2.2" opacity="0.55" transform="translate(0.6,1.6)"/><path d="M527.3,-2 L527.3,5.8 L513.6,5.8 L538.3,21.6 L563.0,5.8 L549.5,5.8 L549.5,-2 Z" fill="url(#og)" stroke="#3f62a6" stroke-width="1.9" stroke-linejoin="miter"/>
</svg>
<div id="cap">
<div class="b">図２　根細胞への<span class="c1">Cd</span>取り込み速度（①）と導管への<span class="c1">Cd</span>輸送量（②）の比較</div>
<div><span class="bl"><span class="j">●&#x2002;</span>は低<span class="c2">Cd</span>集積品種、</span><span class="rd"><span class="j" style="margin-left:-0.8px;margin-right:-1px">●</span>は高<span class="c3">Cd</span>集積品種</span></div>
<div>イネの地上部<span class="c">Cd</span>集積の品種間差は、①ではなく、②が決め手。</div>
<div>ナス属植物は①と②の両方の要因があるが、②の違いがより大きい。</div>
</div>
</body></html>
